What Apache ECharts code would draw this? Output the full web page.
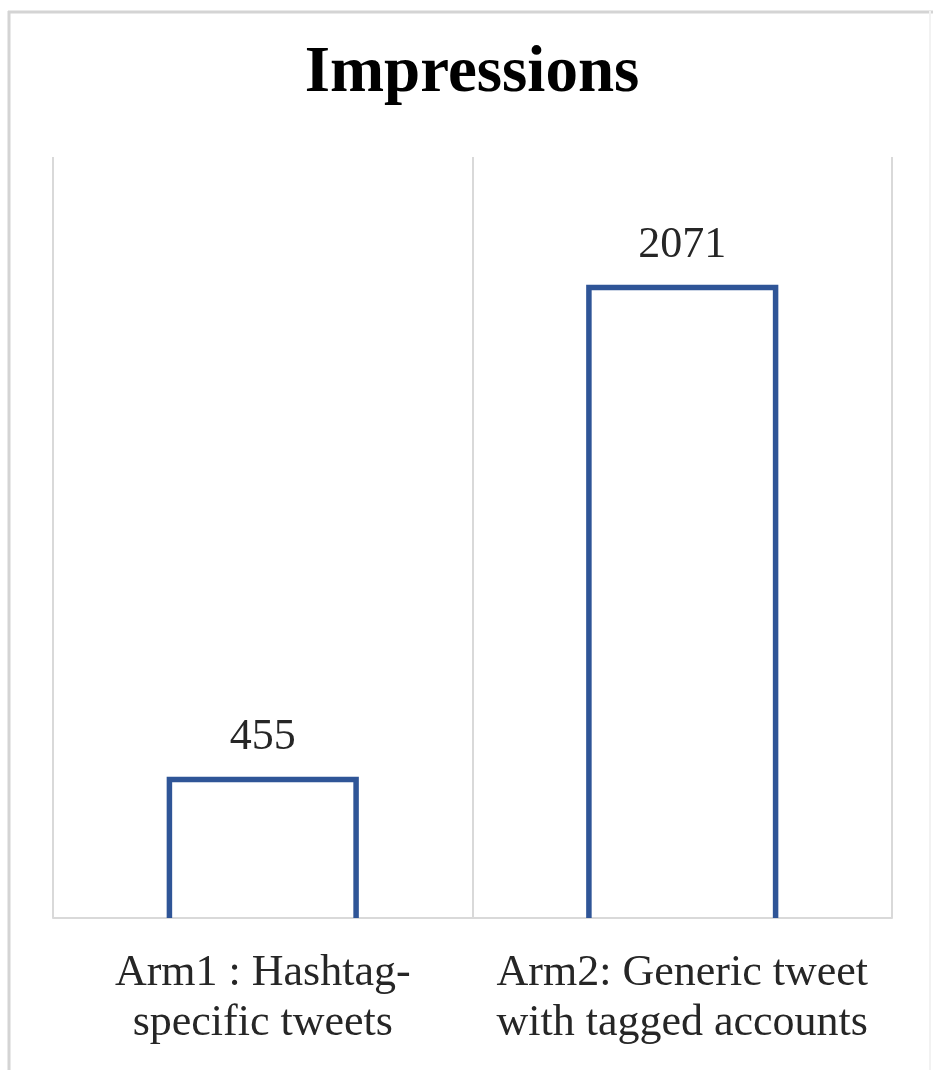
<!DOCTYPE html>
<html>
<head>
<meta charset="utf-8">
<script src="https://cdn.jsdelivr.net/npm/echarts@6/dist/echarts.min.js"></script>
<style>
html,body{margin:0;padding:0;background:#fff;}
#chart{width:933px;height:1070px;}
</style>
</head>
<body>
<div id="chart"></div>
<script>
var titleText = 'Impressions';
var categories = ['Arm1 : Hashtag-\nspecific tweets', 'Arm2: Generic tweet\nwith tagged accounts'];
var impressions = [455, 2071];
var yMin = 0;
var yMax = 2500;

var chart = echarts.init(document.getElementById('chart'), null, {renderer: 'canvas'});
var barColor = '#2F5597';
var serif = '"Liberation Serif", "Times New Roman", serif';

chart.setOption({
  backgroundColor: '#ffffff',
  animation: false,
  graphic: [
    {type: 'line', shape: {x1: 8, y1: 12, x2: 933, y2: 12}, style: {stroke: '#d4d4d4', lineWidth: 3}, z: 0},
    {type: 'line', shape: {x1: 9, y1: 11, x2: 9, y2: 1070}, style: {stroke: '#d4d4d4', lineWidth: 3}, z: 0},
    {type: 'line', shape: {x1: 930, y1: 11, x2: 930, y2: 1070}, style: {stroke: '#f2f2f2', lineWidth: 2}, z: 0},
    {type: 'text', x: 472, y: 74, style: {text: titleText, font: 'bold 65px ' + serif, fill: '#000', textAlign: 'center', textVerticalAlign: 'middle'}, z: 10}
  ],
  grid: {left: 53, right: 41, top: 157, bottom: 152, containLabel: false},
  xAxis: {
    type: 'category',
    data: categories,
    boundaryGap: true,
    axisLine: {show: true, lineStyle: {color: '#d9d9d9', width: 2}},
    axisTick: {show: false},
    splitLine: {show: true, lineStyle: {color: '#d9d9d9', width: 2}},
    axisLabel: {
      interval: 0,
      margin: 30,
      color: '#262626',
      fontFamily: serif,
      fontSize: 44,
      lineHeight: 50
    }
  },
  yAxis: {
    type: 'value',
    min: yMin,
    max: yMax,
    show: false,
    splitLine: {show: false}
  },
  series: [{
    type: 'custom',
    data: impressions.map(function (v, i) { return [i, v]; }),
    encode: {x: 0, y: 1},
    renderItem: function (params, api) {
      var idx = api.value(0);
      var val = api.value(1);
      var base = api.coord([idx, 0]);
      var top = api.coord([idx, val]);
      var band = api.size([1, 0])[0];
      var half = band * 0.445 / 2;
      var lw = 5.5;
      return {
        type: 'group',
        children: [
          {
            type: 'polyline',
            shape: {points: [[top[0] - half, base[1]], [top[0] - half, top[1]], [top[0] + half, top[1]], [top[0] + half, base[1]]]},
            style: {stroke: barColor, lineWidth: lw, fill: null, lineJoin: 'miter'}
          },
          {
            type: 'text',
            x: top[0],
            y: top[1] - 42,
            style: {text: String(val), font: '44px ' + serif, fill: '#262626', textAlign: 'center', textVerticalAlign: 'middle'}
          }
        ]
      };
    }
  }]
});
</script>
</body>
</html>
